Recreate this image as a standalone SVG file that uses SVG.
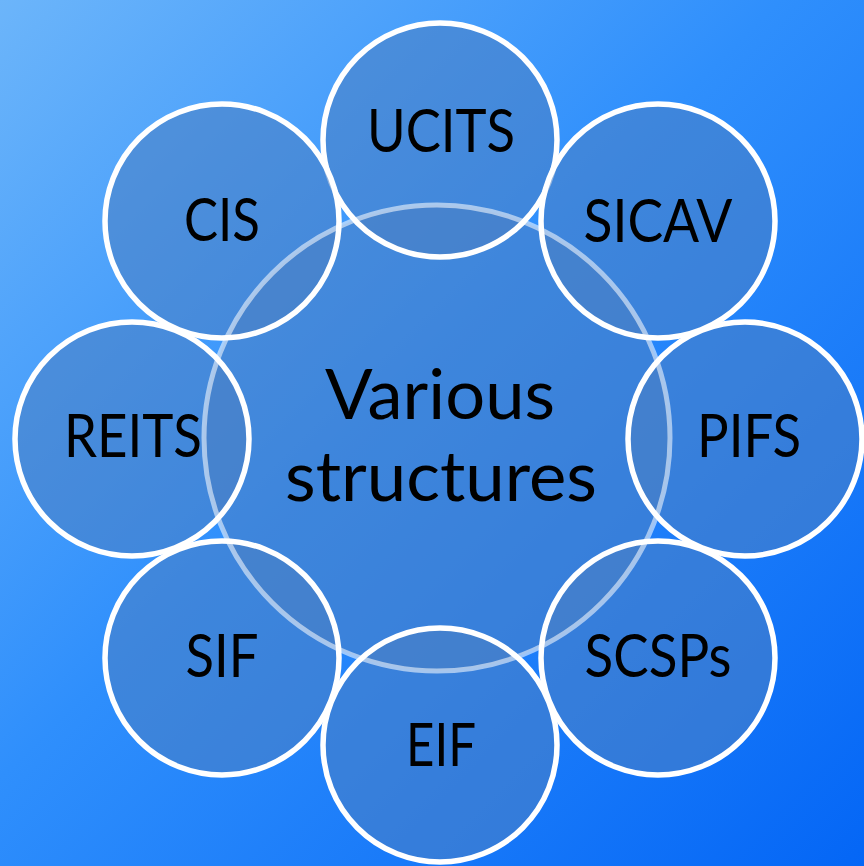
<svg xmlns="http://www.w3.org/2000/svg" width="864" height="866" viewBox="0 0 864 866">
  <defs>
    <linearGradient id="bg" x1="0" y1="0" x2="864" y2="866" gradientUnits="userSpaceOnUse">
      <stop offset="0" stop-color="#6cb5fa"/>
      <stop offset="0.45" stop-color="#2f8ffc"/>
      <stop offset="1" stop-color="#0466f6"/>
    </linearGradient>
    <style>
      .hub-fill { fill: #4a80c4; fill-opacity: 0.58; stroke: none; }
      .hub-ring { fill: none; stroke: #ffffff; stroke-opacity: 0.55; stroke-width: 5; }
      .sat { fill: #4a80c4; fill-opacity: 0.58; stroke: #ffffff; stroke-width: 5.5; }
      .lbl { font-family: Lato, "Open Sans", "Liberation Sans", sans-serif; font-size: 60px; fill: #000000; text-anchor: middle; }
      .hub-lbl { font-family: Lato, "Open Sans", "Liberation Sans", sans-serif; font-size: 70px; fill: #000000; text-anchor: middle; }
    </style>
  </defs>

  <rect x="0" y="0" width="864" height="866" fill="url(#bg)"/>

  <!-- central hub: fill below the satellites, ring drawn over them -->
  <g id="hub">
    <circle class="hub-fill" cx="437" cy="438" r="233"/>
  </g>

  <g id="connectors"/>

  <g id="node-ucits">
    <circle class="sat" cx="440" cy="140" r="117"/>
    <text class="lbl" x="441" y="152" textLength="148" lengthAdjust="spacingAndGlyphs">UCITS</text>
  </g>
  <g id="node-sicav">
    <circle class="sat" cx="658" cy="221" r="117"/>
    <text class="lbl" x="658" y="242" textLength="149" lengthAdjust="spacingAndGlyphs">SICAV</text>
  </g>
  <g id="node-pifs">
    <circle class="sat" cx="745" cy="439" r="117"/>
    <text class="lbl" x="749" y="457" textLength="104" lengthAdjust="spacingAndGlyphs">PIFS</text>
  </g>
  <g id="node-scsps">
    <circle class="sat" cx="658" cy="658" r="117"/>
    <text class="lbl" x="658" y="677" textLength="147" lengthAdjust="spacingAndGlyphs">SCSPs</text>
  </g>
  <g id="node-eif">
    <circle class="sat" cx="440" cy="745" r="117"/>
    <text class="lbl" x="441" y="766" textLength="70" lengthAdjust="spacingAndGlyphs">EIF</text>
  </g>
  <g id="node-sif">
    <circle class="sat" cx="222" cy="658" r="117"/>
    <text class="lbl" x="222" y="677" textLength="73" lengthAdjust="spacingAndGlyphs">SIF</text>
  </g>
  <g id="node-reits">
    <circle class="sat" cx="132" cy="439" r="117"/>
    <text class="lbl" x="133" y="457" textLength="138" lengthAdjust="spacingAndGlyphs">REITS</text>
  </g>
  <g id="node-cis">
    <circle class="sat" cx="222" cy="221" r="117"/>
    <text class="lbl" x="222" y="241" textLength="76" lengthAdjust="spacingAndGlyphs">CIS</text>
  </g>

  <g id="hub-outline">
    <circle class="hub-ring" cx="437" cy="438" r="233"/>
    <text class="hub-lbl" x="440" y="419" textLength="230" lengthAdjust="spacingAndGlyphs">Various</text>
    <text class="hub-lbl" x="441" y="501" textLength="312" lengthAdjust="spacingAndGlyphs">structures</text>
  </g>
</svg>
